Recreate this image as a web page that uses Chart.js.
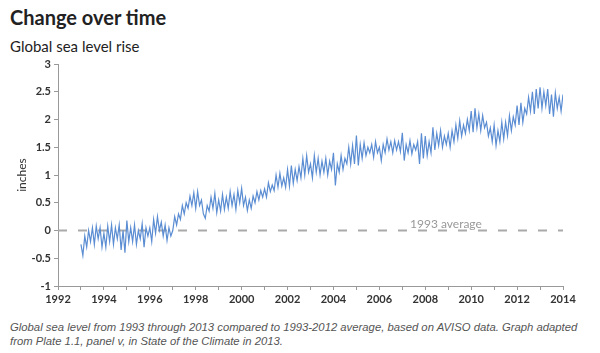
<!DOCTYPE html>
<html>
<head>
<meta charset="utf-8">
<script src="https://cdn.jsdelivr.net/npm/chart.js@4"></script>
<style>
  body { margin: 0; width: 600px; height: 353px; background: #fff; position: relative; overflow: hidden; font-family: Lato, sans-serif; }
  #title { position: absolute; left: 10px; top: 5px; font-size: 20px; font-weight: bold; color: #222; }
  #subtitle { position: absolute; left: 10px; top: 37px; font-size: 15px; color: #222; }
  #wrap { position: absolute; left: 0; top: 50px; width: 600px; height: 256px; }
  #caption { position: absolute; left: 10px; top: 320px; width: 590px; font-family: "Liberation Sans", Arial, sans-serif; font-style: italic; font-size: 11.3px; line-height: 14px; color: #555; }
</style>
</head>
<body>
<div id="title">Change over time</div>
<div id="subtitle">Global sea level rise</div>
<div id="wrap"><canvas id="chart-area"></canvas></div>
<div id="caption">Global sea level from 1993 through 2013 compared to 1993-2012 average, based on AVISO data. Graph adapted from Plate 1.1, panel v, in State of the Climate in 2013.</div>
<script>
// monthly readings, inches relative to the 1993-2012 average, starting Jan 1993
var startYear = 1993;
var perYear = 12;
var seaLevel = [
  -0.25, -0.45, -0.1, -0.3, 0.0, -0.2, 0.05, -0.25, 0.08, -0.15, 0.05, -0.3,   // 1993
  -0.05, -0.3, 0.08, -0.2, 0.1, -0.25, 0.05, -0.15, 0.1, -0.35, 0.0, -0.4,     // 1994
  0.18, -0.2, 0.05, -0.2, 0.1, -0.25, 0.0, -0.15, 0.12, -0.3, 0.05, -0.1,      // 1995
  0.05, -0.2, 0.2, -0.05, 0.25, 0.0, 0.15, -0.1, 0.1, -0.18, 0.05, -0.1,       // 1996
  0.0, 0.25, 0.1, 0.3, 0.2, 0.45, 0.3, 0.5, 0.4, 0.62, 0.45, 0.68,             // 1997
  0.4, 0.7, 0.45, 0.55, 0.3, 0.22, 0.45, 0.35, 0.6, 0.4, 0.67, 0.32,           // 1998
  0.55, 0.35, 0.65, 0.38, 0.6, 0.4, 0.7, 0.45, 0.65, 0.38, 0.72, 0.5,          // 1999
  0.76, 0.45, 0.6, 0.36, 0.55, 0.4, 0.62, 0.5, 0.7, 0.55, 0.72, 0.6,           // 2000
  0.75, 0.6, 0.86, 0.7, 0.82, 0.72, 1.0, 0.78, 1.03, 0.8, 0.95, 0.78,          // 2001
  1.1, 0.8, 1.17, 0.85, 1.1, 0.9, 1.15, 0.95, 1.3, 1.0, 1.35, 1.05,            // 2002
  1.2, 0.95, 1.35, 1.05, 1.3, 1.0, 1.25, 1.05, 1.3, 1.0, 1.25, 1.1,            // 2003
  1.4, 0.81, 1.2, 1.05, 1.35, 1.1, 1.3, 1.2, 1.5, 1.2, 1.53, 1.2,              // 2004
  1.71, 1.17, 1.55, 1.3, 1.58, 1.35, 1.5, 1.4, 1.55, 1.32, 1.6, 1.4,           // 2005
  1.5, 1.26, 1.55, 1.4, 1.65, 1.45, 1.6, 1.4, 1.62, 1.45, 1.6, 1.42,           // 2006
  1.76, 1.26, 1.55, 1.4, 1.62, 1.38, 1.55, 1.45, 1.6, 1.2, 1.75, 1.3,          // 2007
  1.7, 1.35, 1.6, 1.4, 1.86, 1.45, 1.75, 1.53, 1.8, 1.5, 1.7, 1.55,            // 2008
  1.75, 1.5, 1.8, 1.6, 1.9, 1.66, 1.98, 1.7, 1.9, 1.75, 2.0, 1.8,              // 2009
  2.15, 1.77, 2.2, 1.85, 2.1, 1.8, 2.07, 1.85, 1.95, 1.7, 1.85, 1.6,           // 2010
  1.9, 1.53, 1.8, 1.6, 1.95, 1.65, 1.95, 1.71, 2.07, 1.8, 2.05, 1.9,           // 2011
  2.25, 1.9, 2.3, 1.95, 2.2, 2.1, 2.4, 2.15, 2.5, 2.1, 2.55, 2.2,              // 2012
  2.58, 2.2, 2.5, 2.25, 2.55, 2.1, 2.45, 2.05, 2.48, 2.2, 2.4, 2.15,           // 2013
  2.45                                                                        // 2014
];
var baselineYears = [1992, 2014];
var baselineValues = [0, 0];
var baselineLabel = '1993 average';
var baselineLabelYear = 2008.9;

var points = seaLevel.map(function(v, i){ return { x: startYear + i / perYear, y: v }; });
var baseline = baselineYears.map(function(yr, i){ return { x: yr, y: baselineValues[i] }; });

var averageLabel = {
    id: 'averageLabel',
    afterDatasetsDraw: function(chart){
        var c = chart.ctx;
        var x = chart.scales.x.getPixelForValue(baselineLabelYear);
        var y = chart.scales.y.getPixelForValue(0);
        c.save();
        c.font = '12px Lato';
        c.fillStyle = '#999';
        c.textAlign = 'center';
        c.textBaseline = 'alphabetic';
        c.fillText(baselineLabel, x, y - 3);
        c.restore();
    }
};

var ctx = document.getElementById('chart-area').getContext('2d');
var config = {
    type: 'line',
    data: {
        datasets: [{
            data: baseline,
            borderColor: '#aaaaaa',
            borderWidth: 2,
            borderDash: [9, 11],
            pointRadius: 0,
            order: 2
        }, {
            data: points,
            borderColor: '#5b8dd3',
            borderWidth: 1.2,
            pointRadius: 0,
            tension: 0,
            order: 1
        }]
    },
    options: {
        responsive: true,
        maintainAspectRatio: false,
        animation: false,
        layout: { padding: { left: 0, right: 37, top: 14, bottom: 0 } },
        plugins: {
            legend: { display: false },
            tooltip: { enabled: false }
        },
        scales: {
            x: {
                type: 'linear',
                min: 1992,
                max: 2014,
                afterFit: function(s){ s.height = 20; },
                border: { color: '#999', width: 1 },
                grid: { drawOnChartArea: false, drawTicks: true, tickLength: 4, color: '#999' },
                ticks: {
                    stepSize: 1,
                    autoSkip: false,
                    maxRotation: 0,
                    padding: 3,
                    color: '#333',
                    font: { family: 'Lato', size: 11, weight: 'bold' },
                    callback: function(v){ return v % 2 === 0 ? String(v) : ''; }
                }
            },
            y: {
                min: -1,
                max: 3,
                afterFit: function(s){ s.width = 58; },
                border: { color: '#999', width: 1 },
                grid: { drawOnChartArea: false, drawTicks: true, tickLength: 4, color: '#999' },
                ticks: {
                    stepSize: 0.5,
                    padding: 3,
                    color: '#333',
                    font: { family: 'Lato', size: 11, weight: 'bold' },
                    callback: function(v){ return String(v); }
                },
                title: {
                    display: true,
                    text: 'inches',
                    color: '#333',
                    padding: { top: 15, bottom: 0 },
                    font: { family: 'Lato', size: 12 }
                }
            }
        }
    },
    plugins: [averageLabel]
};
window.seaChart = new Chart(ctx, config);
</script>
</body>
</html>
